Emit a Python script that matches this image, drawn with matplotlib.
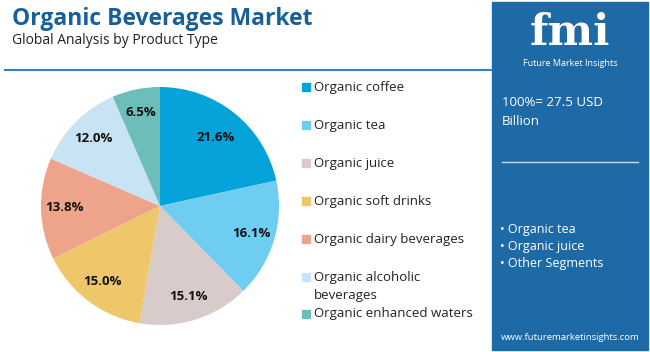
import numpy as np
import matplotlib
matplotlib.use("Agg")
import matplotlib.pyplot as plt
from matplotlib.patches import Rectangle

# data
segments = ["Organic coffee", "Organic tea", "Organic juice", "Organic soft drinks",
            "Organic dairy beverages", "Organic alcoholic\nbeverages", "Organic enhanced waters"]
shares = [21.6, 16.1, 15.1, 15.0, 13.8, 12.0, 6.5]
colors = ["#05a3da", "#6ecdf1", "#d9cbca", "#eec76b", "#eea38b", "#c8e3f3", "#6dbdb9"]
side_items = ["Organic tea", "Organic juice", "Other Segments"]
total_text = "100%= 27.5 USD\nBillion"

W, H = 650, 352
fig = plt.figure(figsize=(W / 100, H / 100), dpi=100)
plt.rcParams['font.family'] = ['Open Sans', 'DejaVu Sans']

# overlay in pixel coordinates for the layout pieces
bg = fig.add_axes([0, 0, 1, 1])
bg.set_xlim(0, W)
bg.set_ylim(H, 0)
bg.axis('off')

bg.text(12, 19, "Organic Beverages Market", fontsize=16.5, fontweight='bold',
        color="#17609a", va='center', ha='left')
bg.text(12, 41, "Global Analysis by Product Type", fontsize=10,
        color="#222222", va='center', ha='left')
bg.plot([5, 492], [70, 70], color="#3a7fc0", lw=1.5)

# right panel
bg.add_patch(Rectangle((492, 2), 156, 348, color="#1d6aa6"))
bg.text(570, 33, "fmi", fontsize=31, fontweight='bold', family='DejaVu Serif',
        color="white", ha='center', va='center')
bg.text(570, 63, "Future Market Insights", fontsize=6.5, color="white",
        ha='center', va='center')
bg.text(502, 112, total_text, fontsize=9.5, color="white", ha='left', va='center',
        linespacing=1.6)
bg.plot([502, 638], [162, 162], color="#c7dcee", lw=1)
for i, s in enumerate(side_items):
    bg.text(500, 229 + i * 17.5, "\u2022 " + s, fontsize=9, color="white",
            ha='left', va='center')
bg.text(570, 337, "www.futuremarketinsights.com", fontsize=6.8, color="white",
        ha='center', va='center')

# legend
legend_y = [87, 125, 163, 201, 239, 277, 314]
for lab, c, y in zip(segments, colors, legend_y):
    bg.add_patch(Rectangle((302, y - 4), 8, 8, color=c))
    if "\n" in lab:
        bg.text(314, y + 9, lab, fontsize=9.5, color="#222222", ha='left', va='center',
                linespacing=1.5)
    else:
        bg.text(314, y, lab, fontsize=9.5, color="#222222", ha='left', va='center')

# pie
cx, cy, r = 160, 206, 119
ax = fig.add_axes([(cx - r) / W, 1 - (cy + r) / H, 2 * r / W, 2 * r / H])
wedges, texts = ax.pie(shares, colors=colors, startangle=90, counterclock=False,
                       radius=1.0)
ax.set_xlim(-1, 1)
ax.set_ylim(-1, 1)
ax.set_aspect('auto')
ang0 = 90
for v in shares:
    mid = np.deg2rad(ang0 - v * 3.6 / 2)
    ang0 -= v * 3.6
    rr = 0.74 if v > 20 else 0.8
    ax.text(rr * np.cos(mid), rr * np.sin(mid), f"{v:.1f}%", fontsize=9.5,
            fontweight='bold', color="#111111", ha='center', va='center')

fig.savefig("out.png", dpi=100)
